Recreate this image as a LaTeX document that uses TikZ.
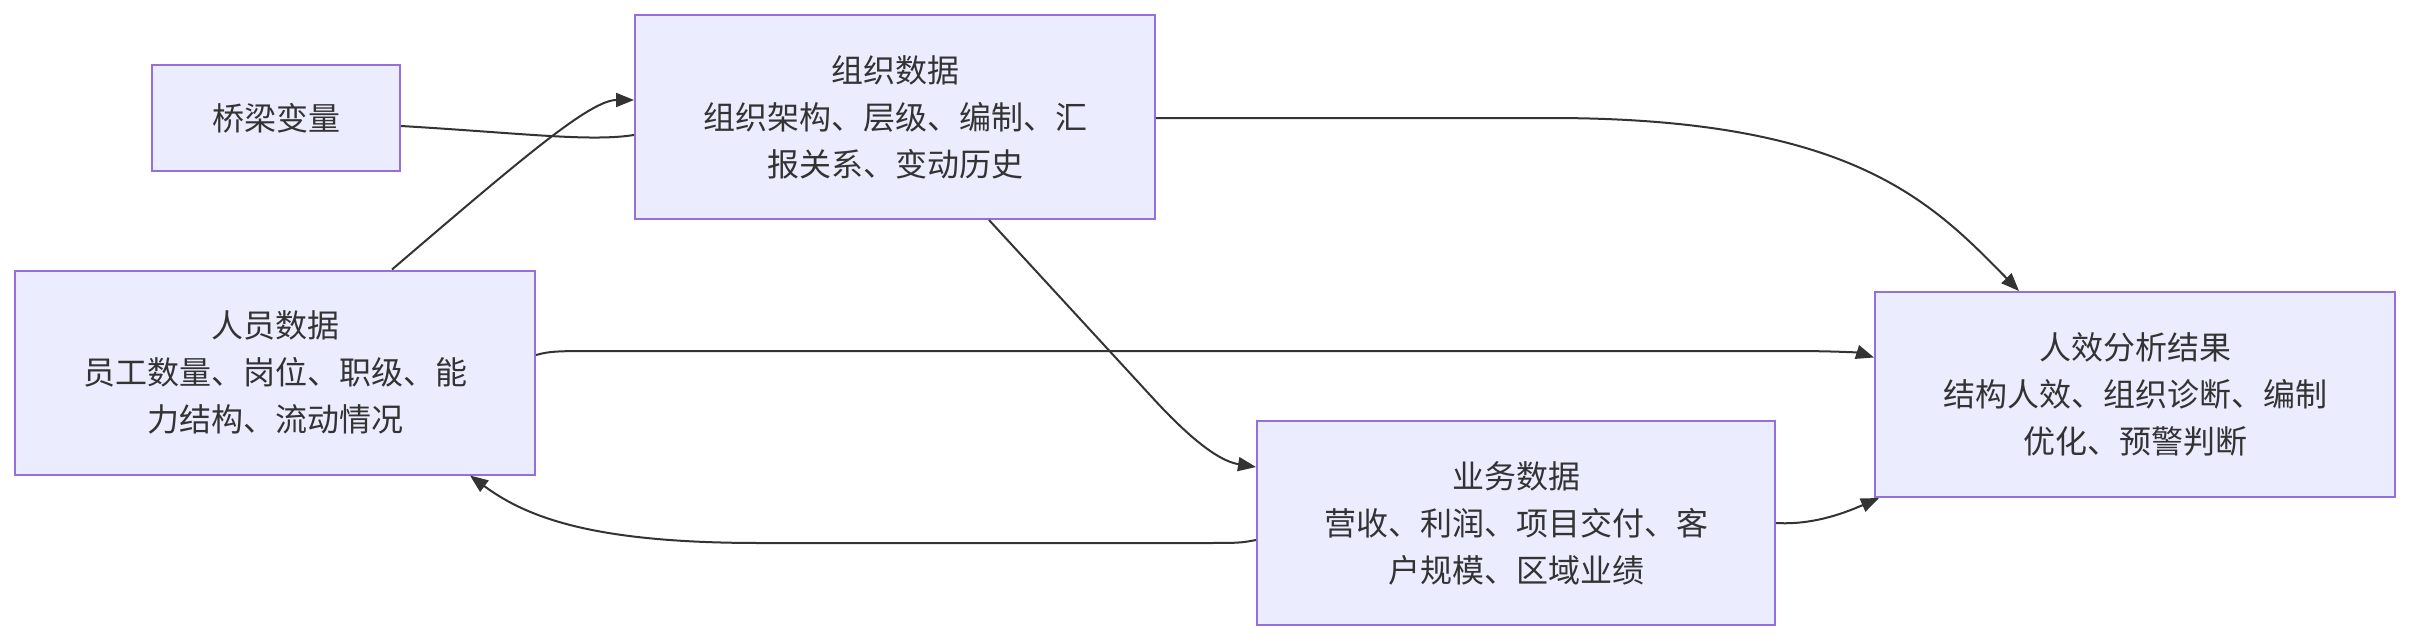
\documentclass[tikz,border=0pt]{standalone}
\usepackage{fontspec}
\setmainfont{Noto Sans CJK SC}
\usetikzlibrary{arrows.meta,calc}
\definecolor{boxfill}{HTML}{ECECFF}
\definecolor{boxline}{HTML}{9370DB}
\definecolor{edgecol}{HTML}{333333}
\begin{document}
\begin{tikzpicture}[x=1pt,y=-1pt,
  box/.style={draw=boxline,fill=boxfill,line width=2pt,inner sep=0pt,align=center,
    text=edgecol,font=\fontsize{32}{47}\selectfont},
  bigbox/.style={box,minimum width=520pt,minimum height=204pt},
  link/.style={draw=edgecol,line width=2pt},
  arr/.style={link,-{Triangle[length=18pt,width=14pt]}}]
\useasboundingbox (0,0) rectangle (2412,642);
\node[box,minimum width=248pt,minimum height=106pt] (qiao) at (276,118) {桥梁变量};
\node[bigbox] (zuzhi) at (895,117) {组织数据\\组织架构、层级、编制、汇\\报关系、变动历史};
\node[bigbox] (renyuan) at (275,372.5) {人员数据\\员工数量、岗位、职级、能\\力结构、流动情况};
\node[bigbox,minimum width=518pt] (yewu) at (1516,523) {业务数据\\营收、利润、项目交付、客\\户规模、区域业绩};
\node[bigbox,minimum height=205pt] (rx) at (2135,394.5) {人效分析结果\\结构人效、组织诊断、编制\\优化、预警判断};
% edges
\draw[link] ($(qiao.east)+(0,8)$) .. controls (520,133) and (590,142) .. ($(zuzhi.west)+(0,18)$);
\draw[arr] ($(renyuan.north)+(117,0)$) .. controls (520,160) and (590,100) .. ($(zuzhi.west)+(0,-17)$);
\draw[arr] (zuzhi.east) ++(0,1) -- (1550,118) .. controls (1850,118) and (1930,200) .. ($(rx.north)+(-116,0)$);
\draw[arr] ($(zuzhi.south)+(94,0)$) -- (1150,395) .. controls (1200,450) and (1225,462) .. ($(yewu.west)+(0,-56)$);
\draw[arr] ($(renyuan.east)+(0,-17.5)$) .. controls (550,351) and (560,351) .. (600,351) -- (1790,351) .. controls (1840,351) and (1860,353) .. ($(rx.west)+(0,-37)$);
\draw[arr] ($(yewu.west)+(0,17)$) .. controls (1240,543) .. (1200,543) -- (760,543) .. controls (600,543) and (530,520) .. ($(renyuan.south)+(195,0)$);
\draw[arr] (yewu.east) .. controls (1810,525) and (1840,515) .. ($(rx.south west)+(5,0)$);
\end{tikzpicture}
\end{document}
